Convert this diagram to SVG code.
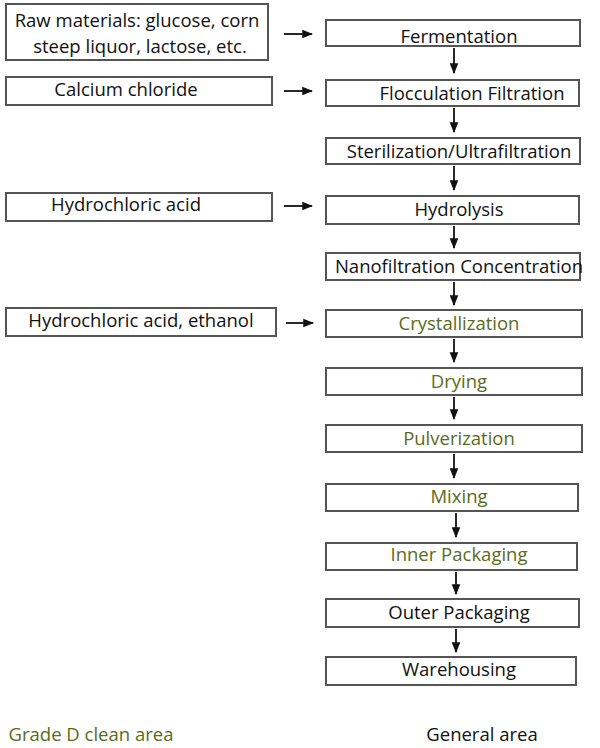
<svg xmlns="http://www.w3.org/2000/svg" width="600" height="748" viewBox="0 0 600 748">
<style>
.b{fill:#fff;stroke:#555;stroke-width:2}
.t{font-family:"Open Sans","Noto Sans",sans-serif;font-size:18.5px;fill:#111;text-anchor:middle}
.g{fill:#5b6b1a}
.c line{stroke:#111;stroke-width:1.8}
</style>
<defs><marker id="a" viewBox="0 0 10 10" refX="9" refY="5" markerWidth="6" markerHeight="6" orient="auto"><path d="M0,1L10,5L0,9z" fill="#111"/></marker></defs>
<rect width="600" height="748" fill="#fff"/>
<g id="n_raw"><rect class="b" x="6" y="4" width="262" height="56"/><text class="t" x="137" y="27">Raw materials: glucose, corn</text><text class="t" x="140" y="53">steep liquor, lactose, etc.</text></g>
<g id="n_ca"><rect class="b" x="6" y="77" width="266" height="28"/><text class="t" x="126" y="96">Calcium chloride</text></g>
<g id="n_hcl"><rect class="b" x="6" y="193" width="266" height="28"/><text class="t" x="126" y="211">Hydrochloric acid</text></g>
<g id="n_hcle"><rect class="b" x="6" y="308" width="270" height="28"/><text class="t" x="141" y="327">Hydrochloric acid, ethanol</text></g>
<g id="n1"><rect class="b" x="326" y="20" width="254" height="26"/><text class="t" x="459" y="43">Fermentation</text></g>
<g id="n2"><rect class="b" x="326" y="80" width="253" height="26"/><text class="t" x="472" y="100">Flocculation Filtration</text></g>
<g id="n3"><rect class="b" x="326" y="138" width="254" height="26"/><text class="t" x="459" y="158">Sterilization/Ultrafiltration</text></g>
<g id="n4"><rect class="b" x="326" y="196" width="253" height="28"/><text class="t" x="459" y="216">Hydrolysis</text></g>
<g id="n5"><rect class="b" x="326" y="253" width="254" height="27"/><text class="t" x="459" y="273">Nanofiltration Concentration</text></g>
<g id="n6"><rect class="b" x="326" y="310" width="256" height="27"/><text class="t g" x="459" y="330">Crystallization</text></g>
<g id="n7"><rect class="b" x="326" y="368" width="256" height="27"/><text class="t g" x="459" y="388">Drying</text></g>
<g id="n8"><rect class="b" x="326" y="425" width="256" height="27"/><text class="t g" x="459" y="445">Pulverization</text></g>
<g id="n9"><rect class="b" x="326" y="484" width="252" height="27"/><text class="t g" x="459" y="503">Mixing</text></g>
<g id="n10"><rect class="b" x="326" y="543" width="251" height="27"/><text class="t g" x="459" y="561">Inner Packaging</text></g>
<g id="n11"><rect class="b" x="326" y="599" width="253" height="28"/><text class="t" x="459" y="619">Outer Packaging</text></g>
<g id="n12"><rect class="b" x="326" y="657" width="250" height="28"/><text class="t" x="459" y="676">Warehousing</text></g>
<g id="labels"><text class="t g" x="91" y="741">Grade D clean area</text><text class="t" x="482" y="741">General area</text></g>
<g class="c">
<line x1="284" y1="34" x2="312" y2="34" marker-end="url(#a)"/>
<line x1="284" y1="91" x2="312" y2="91" marker-end="url(#a)"/>
<line x1="284" y1="206" x2="312" y2="206" marker-end="url(#a)"/>
<line x1="286" y1="323" x2="313" y2="323" marker-end="url(#a)"/>
<line x1="454" y1="48" x2="454" y2="73" marker-end="url(#a)"/>
<line x1="454" y1="108" x2="454" y2="132" marker-end="url(#a)"/>
<line x1="454" y1="166" x2="454" y2="190" marker-end="url(#a)"/>
<line x1="454" y1="226" x2="454" y2="248" marker-end="url(#a)"/>
<line x1="454" y1="282" x2="454" y2="305" marker-end="url(#a)"/>
<line x1="454" y1="339" x2="454" y2="362" marker-end="url(#a)"/>
<line x1="454" y1="397" x2="454" y2="419" marker-end="url(#a)"/>
<line x1="454" y1="454" x2="454" y2="478" marker-end="url(#a)"/>
<line x1="456" y1="513" x2="456" y2="537" marker-end="url(#a)"/>
<line x1="456" y1="572" x2="456" y2="594" marker-end="url(#a)"/>
<line x1="456" y1="629" x2="456" y2="652" marker-end="url(#a)"/>
</g>
</svg>
